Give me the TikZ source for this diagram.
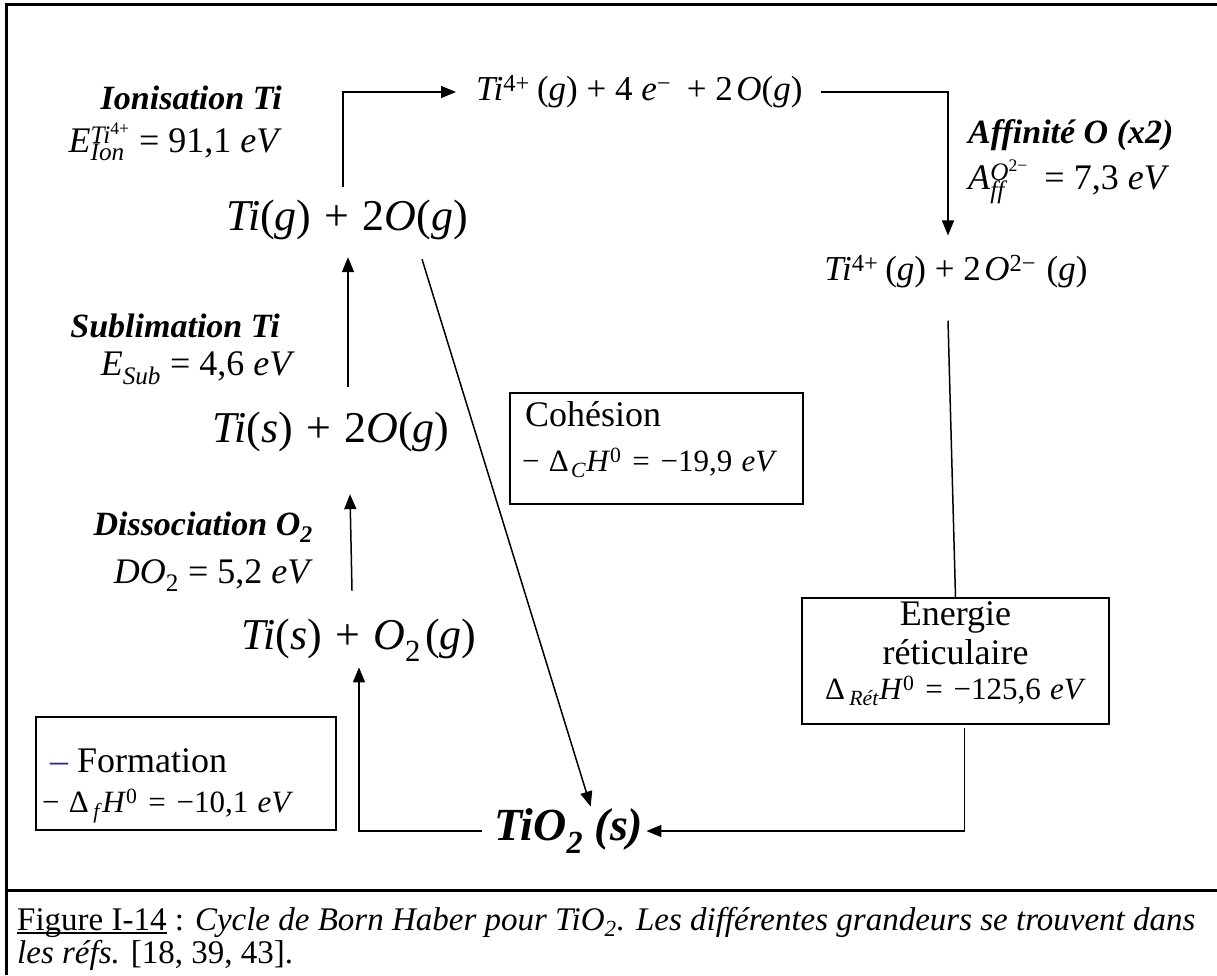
\documentclass[tikz,border=0pt]{standalone}
\usepackage{fontspec}
\setmainfont{Liberation Serif}
\usetikzlibrary{arrows.meta}
\newcommand{\vi}[1]{\textit{#1}}
\newcommand{\pl}{\hspace{0.25em}+\hspace{0.25em}}
\newcommand{\plw}{\hspace{0.3em}+\hspace{0.3em}}
\newcommand{\eqs}{\hspace{0.25em}=\hspace{0.25em}}
\newcommand{\eqw}{\hspace{0.35em}=\hspace{0.35em}}
\newcommand{\mn}{−}
\newsavebox{\supbox}
\newsavebox{\subbox}
\newlength{\ssw}
\newcommand{\supsub}[2]{%
  \sbox{\supbox}{\textsuperscript{#1}}%
  \sbox{\subbox}{\textsubscript{#2}}%
  \setlength{\ssw}{\wd\supbox}%
  \ifdim\wd\subbox>\ssw \setlength{\ssw}{\wd\subbox}\fi
  \rlap{\usebox{\supbox}}\rlap{\usebox{\subbox}}\hspace{\ssw}}
\newcommand{\ulfig}[1]{\sbox{\supbox}{#1}\rlap{\rule[-4pt]{\wd\supbox}{1.6pt}}\usebox{\supbox}}
\definecolor{dashblue}{RGB}{40,40,150}
\tikzset{
  eqbig/.style={inner sep=0pt, font=\fontsize{44}{50}\selectfont},
  eqmid/.style={inner sep=0pt, font=\fontsize{35}{42}\selectfont},
  lab/.style={inner sep=0pt, font=\fontsize{34}{40}\selectfont\bfseries\itshape},
  val/.style={inner sep=0pt, font=\fontsize{36}{42}\selectfont},
  btxt/.style={inner sep=0pt, font=\fontsize{36}{42}\selectfont},
  bval/.style={inner sep=0pt, font=\fontsize{31}{36}\selectfont},
  boxed/.style={draw, line width=1.5pt, inner sep=0pt},
  arr/.style={line width=1.5pt, -{Triangle[length=15pt,width=12pt]}},
  ln/.style={line width=1.5pt},
  framel/.style={line width=3pt},
  captxt/.style={inner sep=0pt, font=\fontsize{33}{38}\selectfont},
}
\begin{document}
\begin{tikzpicture}[x=1pt,y=-1pt]
\useasboundingbox (0,0) rectangle (1217,975);
% frame
\draw[framel] (6,975) -- (6,4) -- (1217,4);
\draw[framel] (6,890) -- (1217,890);

% states
\node[eqbig] (tig) at (347,220) {\vi{Ti}(\vi{g})\plw 2\vi{O}(\vi{g})};
\node[eqmid, anchor=west] (ti4) at (476,92) {\vi{Ti}\textsuperscript{4+}\hspace{0.2em}(\vi{g})\pl 4\hspace{0.25em}\vi{e}\textsuperscript{\mn}\hspace{0.2em}\pl 2\hspace{0.1em}\vi{O}(\vi{g})};
\node[eqmid] (ti4o) at (956,272) {\vi{Ti}\textsuperscript{4+}\hspace{0.2em}(\vi{g})\pl 2\hspace{0.1em}\vi{O}\textsuperscript{2\mn}\hspace{0.3em}(\vi{g})};
\node[eqbig] (ts2o) at (331,432) {\vi{Ti}(\vi{s})\plw 2\vi{O}(\vi{g})};
\node[eqbig] (tso2) at (359,640) {\vi{Ti}(\vi{s})\plw \vi{O}\textsubscript{2}\hspace{0.1em}(\vi{g})};
\node[inner sep=0pt, font=\fontsize{46}{52}\selectfont\bfseries\itshape, anchor=west] (tio2) at (494,831) {TiO\textsubscript{2} (s)};

% labels
\node[lab, anchor=east] (ionl) at (282,98) {Ionisation Ti};
\node[val, anchor=east] (ionv) at (282,142) {\vi{E}\supsub{\vi{Ti}\textsuperscript{4+}}{\vi{Ion}}\eqs 91,1\hspace{0.25em}\vi{eV}};
\node[lab, anchor=west] (affl) at (968,135) {Affinité O (x2)};
\node[val, anchor=west] (affv) at (968,182) {\vi{A}\supsub{\vi{O}\textsuperscript{2\mn}}{\vi{ff}}\hspace{0.2em}\eqs 7,3\hspace{0.25em}\vi{eV}};
\node[lab, anchor=east] (subl) at (280,326) {Sublimation Ti};
\node[val, anchor=east] (subv) at (295,368) {\vi{E}\textsubscript{\vi{Sub}}\eqs 4,6\hspace{0.25em}\vi{eV}};
\node[lab, anchor=east] (disl) at (313,527) {Dissociation O\textsubscript{2}};
\node[val, anchor=east] (disv) at (313,576) {\vi{DO}\textsubscript{2}\eqs 5,2\hspace{0.25em}\vi{eV}};

% boxes
\node[boxed, minimum width=293pt, minimum height=111pt] (cohbox) at (656.5,448.5) {};
\node[btxt, anchor=west] (cohl) at (525,414) {Cohésion};
\node[bval, anchor=west] (cohv) at (522,463) {\mn\hspace{0.3em}Δ\textsubscript{\hspace{0.1em}\vi{C}}\vi{H}\textsuperscript{0}\eqw\mn19,9\hspace{0.3em}\vi{eV}};

\node[boxed, minimum width=307pt, minimum height=126pt] (retbox) at (955.5,661) {};
\node[btxt] (retl1) at (955.5,617) {Energie};
\node[btxt] (retl2) at (955.5,652) {réticulaire};
\node[bval] (retv) at (955.5,691) {Δ\textsubscript{\hspace{0.2em}\vi{Rét}}\vi{H}\textsuperscript{0}\eqw\mn125,6\hspace{0.3em}\vi{eV}};

\node[boxed, minimum width=300pt, minimum height=113pt] (formbox) at (186,773.5) {};
\node[btxt, anchor=west] (forml) at (50,761) {\textcolor{dashblue}{–} Formation};
\node[bval, anchor=west] (formv) at (42,806) {\mn\hspace{0.3em}Δ\textsubscript{\hspace{0.2em}\vi{f}}\vi{H}\textsuperscript{0}\eqw\mn10,1\hspace{0.3em}\vi{eV}};

% connectors
\draw[arr] ([xshift=-4pt,yshift=13pt]tig.north) |- ([xshift=-20pt]ti4.west);
\draw[arr] ([xshift=18pt]ti4.east) -| ([xshift=-8pt,yshift=20pt]ti4o.north);
\draw[ln] ([xshift=-8pt,yshift=-32pt]ti4o.south) -- (retbox.north);
\draw[arr] ([xshift=9pt,yshift=-3pt]retbox.south) |- ([xshift=3pt]tio2.east);
\draw[arr] ([xshift=-12pt]tio2.west) -| ([xshift=0pt,yshift=-6pt]tso2.south);
\draw[arr] ([xshift=-7pt,yshift=28pt]tso2.north) -- ([xshift=19pt,yshift=-42pt]ts2o.south);
\draw[arr] ([xshift=17pt,yshift=25pt]ts2o.north) -- ([xshift=1pt,yshift=-17pt]tig.south);
\coordinate (dtip) at ([xshift=22pt,yshift=2pt]tio2.north);
\draw[arr] ([xshift=75pt,yshift=-19pt]tig.south) -- (dtip);

% caption
\node[captxt, anchor=base west] (cap1) at (17,930) {\ulfig{Figure I-14} : \textit{Cycle de Born Haber pour TiO\textsubscript{2}. Les différentes grandeurs se trouvent dans}};
\node[captxt, anchor=base west] (cap2) at (17,963) {\textit{les réfs.} [18, 39, 43].};
\end{tikzpicture}
\end{document}
